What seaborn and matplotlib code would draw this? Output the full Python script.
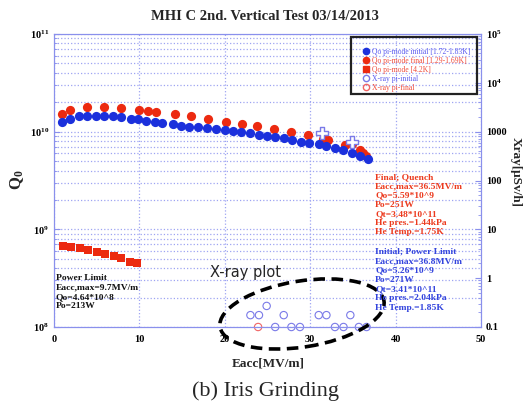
import numpy as np
import pandas as pd
import matplotlib
matplotlib.use("Agg")
import matplotlib.pyplot as plt
import seaborn as sns
from matplotlib.patches import Ellipse, Rectangle
from matplotlib.lines import Line2D
from matplotlib.transforms import IdentityTransform
from matplotlib.ticker import LogLocator, NullFormatter

# Qo pi-mode initial [1.72-1.83K]
eacc_init = [0.9, 1.9, 2.9, 3.9, 4.9, 5.9, 6.9, 7.9, 9.0, 9.8, 10.8, 11.8, 12.7,
             13.9, 14.9, 15.8, 16.9, 17.9, 19.0, 20.0, 21.0, 21.9, 23.0, 24.0,
             24.9, 25.9, 26.9, 27.9, 28.9, 29.9, 31.0, 31.9, 32.9, 33.8, 34.9,
             35.8, 36.8]
q_init = [1.25e10, 1.35e10, 1.43e10, 1.45e10, 1.45e10, 1.45e10, 1.43e10, 1.40e10,
          1.34e10, 1.34e10, 1.30e10, 1.25e10, 1.22e10, 1.19e10, 1.15e10, 1.12e10,
          1.11e10, 1.08e10, 1.06e10, 1.03e10, 1.01e10, 9.86e9, 9.64e9, 9.33e9,
          9.10e9, 8.89e9, 8.55e9, 8.22e9, 7.91e9, 7.71e9, 7.43e9, 7.14e9, 6.76e9,
          6.50e9, 6.10e9, 5.68e9, 5.26e9]

# Qo pi-mode final [1.29-1.69K]
eacc_final = [0.9, 1.9, 3.9, 5.9, 7.9, 10.0, 11.0, 12.0, 14.2, 16.1, 18.0, 20.1,
              22.0, 23.8, 25.8, 27.8, 29.7, 31.5, 32.1, 34.1, 34.9, 35.8, 36.2, 36.5]
q_final = [1.52e10, 1.67e10, 1.80e10, 1.78e10, 1.75e10, 1.67e10, 1.64e10, 1.58e10,
           1.52e10, 1.44e10, 1.36e10, 1.26e10, 1.21e10, 1.14e10, 1.07e10, 9.93e9,
           9.18e9, 8.36e9, 8.22e9, 7.31e9, 7.48e9, 6.46e9, 6.03e9, 5.59e9]

# Qo pi-mode [4.2K]
eacc_42k = [1.0, 2.0, 3.0, 4.0, 5.0, 6.0, 7.0, 7.9, 8.9, 9.7]
q_42k = [6.81e8, 6.56e8, 6.40e8, 6.15e8, 5.83e8, 5.56e8, 5.38e8, 5.06e8, 4.68e8, 4.50e8]

# X-ray (right axis)
eacc_xray_init = [23.0, 24.0, 24.9, 25.9, 26.9, 27.8, 28.8, 31.0, 31.9, 32.9,
                  33.9, 34.7, 35.7, 36.6]
xray_init = [0.175, 0.175, 0.27, 0.1, 0.175, 0.1, 0.1, 0.175, 0.175, 0.1,
             0.1, 0.175, 0.1, 0.1]
eacc_xray_final = [23.9]
xray_final = [0.1]
eacc_xray_high = [31.4, 34.9]
xray_high = [950, 620]

legend_labels = ["Qo pi-mode initial [1.72-1.83K]", "Qo pi-mode final [1.29-1.69K]",
                 "Qo pi-mode [4.2K]", "X-ray pi-initial", "X-ray pi-final"]
right_ticks = [0.1, 1, 10, 100, 1000, 1e4, 1e5]
right_ticklabels = ["0.1", "1", "10", "100", "1000", r"$10^4$", r"$10^5$"]

final_text = ["Final; Quench", "Eacc,max=36.5MV/m", "Qo=5.59*10^9", "Po=251W",
              "Qt=3.48*10^11", "He pres.=1.44kPa", "He Temp.=1.75K"]
initial_text = ["Initial; Power Limit", "Eacc,max=36.8MV/m", "Qo=5.26*10^9", "Po=271W",
                "Qt=3.41*10^11", "He pres.=2.04kPa", "He Temp.=1.85K"]
k42_text = ["Power Limit", "Eacc,max=9.7MV/m", "Qo=4.64*10^8", "Po=213W"]

blue = "#1b30dc"
red = "#ec2a10"
xblue = "#7a7ae8"
xred = "#f06464"
gridc = "#9ea4f2"
spinec = "#8a90ec"

sns.set_style("white")
plt.rcParams["font.family"] = ["Liberation Serif", "DejaVu Serif"]
plt.rcParams["font.weight"] = "bold"
plt.rcParams["mathtext.fontset"] = "custom"
plt.rcParams["mathtext.rm"] = "Liberation Serif:bold"
plt.rcParams["mathtext.it"] = "Liberation Serif:italic:bold"
plt.rcParams["mathtext.bf"] = "Liberation Serif:bold"

W, H = 523, 408
fig = plt.figure(figsize=(W / 100, H / 100), dpi=100)
ax = fig.add_axes([54 / W, 1 - 327 / H, 427 / W, 293 / H])
ax2 = ax.twinx()

df_init = pd.DataFrame({"Eacc": eacc_init, "Q": q_init})
df_final = pd.DataFrame({"Eacc": eacc_final, "Q": q_final})
df_42k = pd.DataFrame({"Eacc": eacc_42k, "Q": q_42k})

sns.scatterplot(data=df_final, x="Eacc", y="Q", ax=ax, color=red, s=44,
                linewidth=0, zorder=3, legend=False)
sns.scatterplot(data=df_init, x="Eacc", y="Q", ax=ax, color=blue, s=44,
                linewidth=0, zorder=4, legend=False)
sns.scatterplot(data=df_42k, x="Eacc", y="Q", ax=ax, color=red, marker="s", s=28,
                linewidth=0, zorder=3, legend=False)

ax.set_yscale("log")
ax.set_xlim(0, 50)
ax.set_ylim(1e8, 1e11)

sns.scatterplot(x=eacc_xray_init, y=xray_init, ax=ax2, s=28, color=xblue,
                linewidth=0.8, clip_on=False, legend=False)
ax2.collections[-1].set_facecolor("none")
ax2.collections[-1].set_edgecolor(xblue)
sns.scatterplot(x=eacc_xray_final, y=xray_final, ax=ax2, s=28, color=xred,
                linewidth=0.8, clip_on=False, legend=False)
ax2.collections[-1].set_facecolor("none")
ax2.collections[-1].set_edgecolor(xred)
sns.scatterplot(x=eacc_xray_high, y=xray_high, ax=ax2, s=80, marker="P",
                color="white", edgecolor=xblue, linewidth=1.0, zorder=5, legend=False)
ax2.set_yscale("log")
ax2.set_ylim(0.1, 1e5)
ax2.set_xlim(0, 50)

# grid
ax.grid(True, which="major", axis="both", color=gridc, linestyle=":", linewidth=0.9)
ax.grid(True, which="minor", axis="y", color=gridc, linestyle=":", linewidth=0.9)
ax.set_axisbelow(True)
ax.set_xticks([0, 10, 20, 30, 40, 50])
ax.yaxis.set_minor_locator(LogLocator(base=10, subs=np.arange(2, 10)))
ax.yaxis.set_minor_formatter(NullFormatter())
ax2.set_yticks(right_ticks)
ax2.set_yticklabels(right_ticklabels)
ax2.yaxis.set_minor_locator(LogLocator(base=10, subs=np.arange(2, 10)))
ax2.yaxis.set_minor_formatter(NullFormatter())

for a in (ax, ax2):
    for sp in a.spines.values():
        sp.set_color(spinec)
        sp.set_linewidth(0.8)
    a.tick_params(which="both", direction="in", color=spinec, labelsize=7.5,
                  labelcolor="black")
    a.tick_params(which="major", length=4)
    a.tick_params(which="minor", length=2)
    a.set_xlabel("")
    a.set_ylabel("")
ax.tick_params(axis="x", pad=6)

# axis labels and titles
fig.text(265 / W, 1 - 16 / H, "MHI C 2nd. Vertical Test 03/14/2013", ha="center",
         va="center", fontsize=10.5, fontweight="bold")
fig.text(268 / W, 1 - 363 / H, "Eacc[MV/m]", ha="center", va="center",
         fontsize=9.5, fontweight="bold")
fig.text(17 / W, 1 - 180 / H, r"Q$_0$", ha="center", va="center", rotation=90,
         fontsize=12, fontweight="bold")
fig.text(516 / W, 1 - 172 / H, "Xray[\u03bcSv/h]", ha="center", va="center",
         rotation=-90, fontsize=9.5, fontweight="bold")
fig.text(266 / W, 1 - 391 / H, "(b) Iris Grinding", ha="center", va="center",
         fontsize=16, fontweight="normal")

# legend
handles = [
    Line2D([], [], marker="o", ls="", color=blue, markersize=4.5),
    Line2D([], [], marker="o", ls="", color=red, markersize=4.5),
    Line2D([], [], marker="s", ls="", color=red, markersize=4),
    Line2D([], [], marker="o", ls="", markerfacecolor="none",
           markeredgecolor=xblue, markersize=4.5),
    Line2D([], [], marker="o", ls="", markerfacecolor="none",
           markeredgecolor=xred, markersize=4.5),
]
leg = ax2.legend(handles, legend_labels, loc="upper left",
                 bbox_to_anchor=(0.71, 0.97), frameon=False,
                 handlelength=1.0, handletextpad=0.3, labelspacing=0.12,
                 borderpad=0.2, prop={"weight": "normal", "size": 5.5})
for t, c in zip(leg.get_texts(), ["#5a5af0", "#f04a3a", "#f04a3a", "#5a5af0", "#f04a3a"]):
    t.set_color(c)
ax2.add_patch(Rectangle((351, H - 94), 126, 57, transform=IdentityTransform(),
                        fill=False, edgecolor="#222222", linewidth=1.6, zorder=10))

# annotations
def block(lines, x, y0, step, color):
    for i, s in enumerate(lines):
        fig.text(x / W, 1 - (y0 + i * step) / H, s, ha="left", va="center",
                 fontsize=6.8, fontweight="bold", color=color)

block(final_text, 375, 177, 9.2, "#ec3a1e")
block(initial_text, 375, 252, 9.3, "#3344dd")
block(k42_text, 56, 278, 9.4, "#111111")

fig.text(210 / W, 1 - 273 / H, "X-ray plot", family=["DejaVu Sans"], ha="left",
         va="center", fontsize=10.5, fontweight="normal")
fig.add_artist(Ellipse((302, H - 314), 166, 66, angle=9, transform=IdentityTransform(),
                       fill=False, edgecolor="black", linewidth=2.6,
                       linestyle=(0, (3.2, 1.8))))

fig.savefig("out.png", dpi=100)
